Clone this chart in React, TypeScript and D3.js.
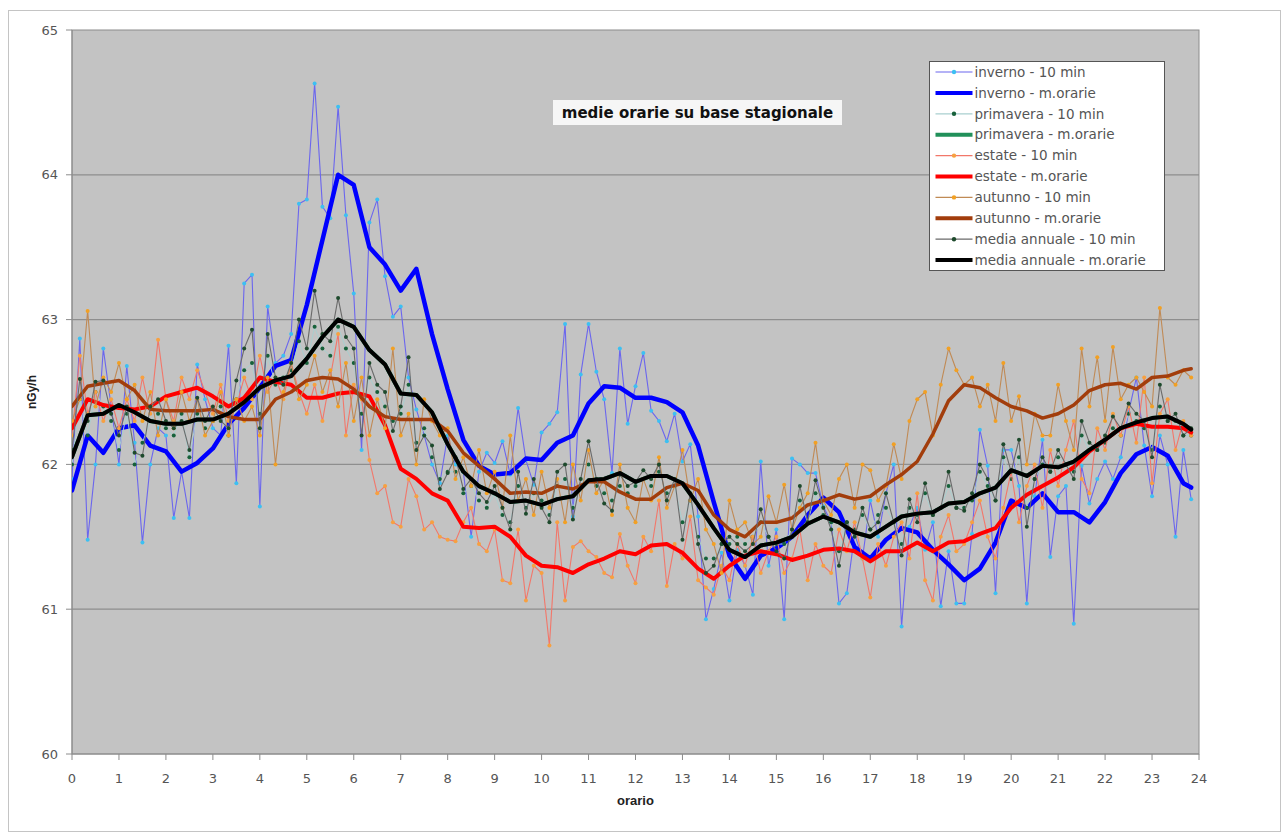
import React from 'react';
import * as d3 from 'd3';

// hours on the x axis, nGy/h on the y axis
const hourTicks = d3.range(0, 25);
const valueTicks = [60, 61, 62, 63, 64, 65];
const gridValues = [61, 62, 63, 64];

// 10-minute samples (0:00 .. 23:50) and the 20-minute sampling of the hourly running means
const tenMinTimes = d3.range(144).map((i) => i / 6);
const hourlyTimes = [...d3.range(72).map((i) => i / 3), 23 + 5 / 6];

const invernoTen = [
  61.9, 62.87, 61.48, 62.0, 62.8, 62.4,
  62.0, 62.68, 62.15, 61.46, 62.0, 62.25,
  62.2, 61.63, 61.95, 61.63, 62.69, 62.45,
  62.25, 62.2, 62.82, 61.87, 63.25, 63.31,
  61.71, 63.09, 62.7, 62.75, 62.9, 63.8,
  63.83, 64.63, 63.78, 63.7, 64.47, 63.72,
  63.18, 62.1, 63.67, 63.83, 63.3, 63.02,
  63.09, 62.6, 62.38, 62.2, 62.0, 61.87,
  62.2, 62.0, 61.95, 61.5, 61.95, 62.08,
  62.01, 62.16, 61.93, 62.39, 62.03, 61.86,
  62.22, 62.28, 62.36, 62.97, 61.64, 62.62,
  62.97, 62.64, 62.45, 61.94, 62.8, 62.28,
  62.54, 62.77, 62.37, 62.3, 62.16, 62.35,
  62.02, 62.14, 61.64, 60.93, 61.14, 61.39,
  61.06, 61.41, 61.3, 61.1, 62.02, 61.3,
  61.55, 60.93, 62.04, 62.0, 61.94, 61.94,
  61.71, 61.6, 61.04, 61.11, 61.52, 61.35,
  61.75, 61.5, 61.8, 62.0, 60.88, 61.57,
  61.7, 61.41, 61.6, 61.02, 61.4, 61.04,
  61.04, 61.52, 62.24, 61.99, 61.11, 62.1,
  62.1, 61.85, 61.04, 61.78, 62.17, 61.36,
  61.78, 61.85, 60.9, 61.99, 61.73, 61.9,
  62.02, 61.9, 62.05, 62.36, 62.6, 62.13,
  61.78, 62.2, 62.0, 61.5, 62.1, 61.76,
];

const invernoOrarie = [
  61.82, 62.2, 62.08, 62.25, 62.27, 62.13, 62.09, 61.95, 62.01, 62.11, 62.28, 62.39,
  62.53, 62.68, 62.72, 63.1, 63.55, 64.0, 63.93, 63.5, 63.38, 63.2, 63.35, 62.9,
  62.52, 62.17, 61.99, 61.93, 61.94, 62.04, 62.03, 62.15, 62.2, 62.42, 62.54, 62.53,
  62.46, 62.46, 62.43, 62.36, 62.13, 61.74, 61.37, 61.21, 61.37, 61.42, 61.5, 61.65,
  61.77, 61.67, 61.43, 61.35, 61.48, 61.56, 61.53, 61.41, 61.31, 61.2, 61.28, 61.46,
  61.75, 61.7, 61.8, 61.67, 61.67, 61.6, 61.74, 61.94, 62.07, 62.12, 62.06, 61.87,
  61.84,
];

const primaveraTen = [
  62.0, 62.45, 62.2, 62.5, 62.4, 62.3,
  62.1, 62.35, 62.0, 62.15, 62.3, 62.35,
  62.25, 62.2, 62.35, 62.05, 62.35, 62.25,
  62.3, 62.4, 62.2, 62.45, 62.65, 62.7,
  62.35, 62.75, 62.55, 62.6, 62.65, 62.85,
  62.7, 62.95, 62.8, 62.75, 62.95, 62.8,
  62.7, 62.35, 62.6, 62.5, 62.4, 62.3,
  62.35, 62.55, 62.15, 62.25, 62.05, 61.9,
  61.95, 61.95, 61.8, 61.85, 61.75, 61.7,
  61.8, 61.65, 61.6, 61.85, 61.7, 61.8,
  61.75, 61.65, 61.85, 61.9, 61.7, 61.85,
  62.0, 61.85, 61.8, 61.75, 61.85, 61.8,
  61.85, 61.9, 61.85, 61.95, 61.8, 61.85,
  61.6, 61.75, 61.5, 61.35, 61.35, 61.45,
  61.45, 61.5, 61.45, 61.5, 61.6, 61.5,
  61.45, 61.45, 61.55, 61.75, 61.6, 61.8,
  61.65, 61.6, 61.4, 61.6, 61.55, 61.65,
  61.55, 61.65, 61.7, 61.6, 61.45, 61.7,
  61.65, 61.8, 61.65, 61.7, 61.85, 61.7,
  61.7, 61.75, 61.95, 61.85, 61.75, 62.05,
  61.9, 62.05, 61.7, 61.9, 62.0, 61.95,
  62.05, 62.0, 61.95, 62.2, 62.1, 62.1,
  62.15, 62.25, 62.2, 62.35, 62.3, 62.25,
  62.1, 62.4, 62.3, 62.3, 62.2, 62.2,
];

// hidden under the annual mean in the picture
const primaveraOrarie = [
  62.05, 62.34, 62.35, 62.41, 62.36, 62.3, 62.28, 62.28, 62.31, 62.31, 62.35, 62.43,
  62.53, 62.58, 62.61, 62.73, 62.88, 63.0, 62.95, 62.79, 62.69, 62.49, 62.48, 62.36,
  62.14, 61.95, 61.85, 61.8, 61.74, 61.75, 61.72, 61.76, 61.78, 61.89, 61.9, 61.94,
  61.88, 61.92, 61.92, 61.87, 61.72, 61.56, 61.41, 61.36, 61.44, 61.46, 61.5, 61.59,
  61.64, 61.6, 61.53, 61.5, 61.57, 61.64, 61.66, 61.67, 61.73, 61.74, 61.8, 61.84,
  61.96, 61.92, 61.99, 61.98, 62.02, 62.1, 62.17, 62.25, 62.29, 62.32, 62.33, 62.28,
  62.24,
];

const estateTen = [
  62.2, 62.75, 62.35, 62.5, 62.3, 62.45,
  62.25, 62.45, 62.3, 62.6, 62.35, 62.86,
  62.45, 62.3, 62.6, 62.45, 62.65, 62.5,
  62.35, 62.55, 62.3, 62.4, 62.6, 62.45,
  62.75, 62.5, 62.6, 62.45, 62.7, 62.5,
  62.35, 62.55, 62.3, 62.6, 62.9, 62.2,
  62.55, 62.45, 62.03, 61.8, 61.85, 61.6,
  61.57, 61.9, 61.78, 61.55, 61.6, 61.5,
  61.48, 61.47, 61.6, 61.7, 61.45, 61.4,
  61.55, 61.2, 61.18, 61.55, 61.06, 61.3,
  61.25, 60.75, 61.6, 61.06, 61.43, 61.47,
  61.4, 61.36, 61.25, 61.22, 61.52, 61.3,
  61.18, 61.5, 61.4, 61.75, 61.16, 61.45,
  61.35, 61.64, 61.2, 61.15, 61.1, 61.3,
  61.2, 61.45, 61.3, 61.5, 61.25, 61.4,
  61.5, 61.25, 61.35, 61.55, 61.2, 61.45,
  61.3, 61.25, 61.55, 61.4, 61.6, 61.35,
  61.08, 61.45, 61.3, 61.5, 61.6, 61.35,
  61.8, 61.2, 61.06, 61.5, 61.65, 61.4,
  61.45, 61.6, 61.75, 61.5, 61.35, 61.7,
  61.95, 61.6, 61.85, 62.0, 61.7, 62.1,
  61.85, 62.1, 62.3, 61.9, 61.8, 62.25,
  62.1, 62.35, 62.2, 62.4, 62.15, 62.6,
  61.87, 62.35, 62.45, 62.1, 62.3, 62.2,
];

const estateOrarie = [
  62.25, 62.45, 62.41, 62.39, 62.38, 62.4, 62.47, 62.5, 62.53, 62.47, 62.4, 62.46,
  62.6, 62.57, 62.55, 62.46, 62.46, 62.49, 62.5, 62.47, 62.27, 61.97, 61.9, 61.8,
  61.75, 61.57, 61.56, 61.57, 61.5, 61.37, 61.3, 61.29, 61.25, 61.31, 61.35, 61.4,
  61.38, 61.44, 61.45, 61.39, 61.28, 61.21, 61.3, 61.37, 61.4, 61.38, 61.34, 61.37,
  61.41, 61.42, 61.4, 61.33, 61.4, 61.4, 61.46, 61.4, 61.46, 61.47, 61.52, 61.56,
  61.7, 61.79, 61.85, 61.91, 61.98, 62.09, 62.17, 62.25, 62.28, 62.26, 62.26, 62.25,
  62.22,
];

const autunnoTen = [
  62.3, 62.45, 63.06, 62.4, 62.6, 62.5,
  62.7, 62.45, 62.55, 62.3, 62.5, 62.2,
  62.45, 62.25, 62.5, 62.3, 62.45, 62.2,
  62.3, 62.5, 62.2, 62.45, 62.3, 62.4,
  62.2, 62.6, 62.0, 62.5, 62.7, 62.45,
  62.55, 62.75, 62.5, 62.65, 62.4, 62.7,
  62.3, 62.6, 62.2, 62.45, 62.25, 62.8,
  62.2, 62.35, 62.0, 62.45, 62.3, 62.2,
  62.25, 61.9, 62.05, 61.85, 62.1, 61.8,
  61.95, 61.7, 62.2, 61.75, 61.9, 61.65,
  61.95, 61.7, 61.9, 61.6, 62.0, 61.75,
  62.1, 61.8, 61.9, 61.65, 62.0, 61.7,
  61.6, 61.9, 61.75, 62.05, 61.7, 61.85,
  62.1, 61.75, 61.9, 61.55, 61.45, 61.25,
  61.75, 61.55, 61.6, 61.45, 61.5, 61.78,
  61.6, 61.86, 61.55, 61.7, 61.8, 62.15,
  61.75, 61.65, 61.9, 62.0, 61.7, 62.0,
  61.96, 61.75, 61.85, 62.14, 61.9, 62.3,
  62.45, 62.5, 62.2, 62.55, 62.8, 62.65,
  62.55, 62.6, 62.4, 62.55, 62.3, 62.7,
  62.3, 62.47, 62.0, 62.35, 62.2, 62.2,
  62.55, 62.3, 62.1, 62.8, 62.4, 62.74,
  62.3, 62.81, 62.45, 62.55, 62.6, 62.5,
  62.4, 63.08, 62.6, 62.55, 62.65, 62.6,
];

const autunnoOrarie = [
  62.4, 62.54, 62.56, 62.58, 62.51, 62.38, 62.37, 62.37, 62.37, 62.38, 62.33, 62.31,
  62.31, 62.45, 62.5, 62.58, 62.6, 62.59, 62.52, 62.4, 62.33, 62.31, 62.31, 62.31,
  62.23, 62.08, 61.99, 61.9, 61.8, 61.81, 61.8, 61.85, 61.83, 61.88, 61.88, 61.81,
  61.76, 61.76, 61.84, 61.87, 61.82, 61.65, 61.55, 61.5, 61.6, 61.6, 61.63, 61.72,
  61.75, 61.79, 61.76, 61.78, 61.86, 61.93, 62.02, 62.21, 62.44, 62.55, 62.53, 62.46,
  62.4, 62.37, 62.32, 62.35, 62.41, 62.51, 62.55, 62.56, 62.52, 62.6, 62.61, 62.65,
  62.66,
];

const mediaTen = [
  62.1, 62.59, 62.3, 62.57, 62.58, 62.35,
  62.2, 62.4, 62.08, 62.06, 62.4, 62.45,
  62.3, 62.25, 62.3, 62.1, 62.46, 62.3,
  62.4, 62.3, 62.25, 62.58, 62.8, 62.93,
  62.25, 62.9, 62.6, 62.55, 62.7, 63.0,
  62.8, 63.2, 62.9, 62.85, 63.15, 62.88,
  62.8, 62.2, 62.7, 62.55, 62.5, 62.23,
  62.4, 62.74, 62.1, 62.2, 62.13, 61.83,
  61.94, 62.05, 61.83, 61.9, 61.8, 61.74,
  61.85, 61.7, 61.55, 61.95, 61.66, 61.9,
  61.7, 61.6, 61.95, 62.0, 61.62, 61.9,
  62.16, 61.9, 61.73, 61.68, 61.93, 61.85,
  61.88, 61.96, 61.9, 62.0, 61.75, 61.9,
  61.48, 61.8, 61.45, 61.25, 61.3, 61.45,
  61.5, 61.45, 61.4, 61.45, 61.69, 61.5,
  61.4, 61.35, 61.55, 61.85, 61.6, 61.89,
  61.7, 61.55, 61.3, 61.6, 61.5, 61.7,
  61.55, 61.6, 61.8, 61.6, 61.37, 61.76,
  61.6, 61.87, 61.65, 61.7, 61.95, 61.7,
  61.68, 61.8, 62.0, 61.9, 61.75, 62.14,
  61.95, 62.17, 61.57, 61.9, 62.05, 61.95,
  62.1, 62.0, 61.9, 62.3, 62.15, 62.1,
  62.2, 62.33, 62.25, 62.42, 62.35, 62.3,
  62.05, 62.55, 62.3, 62.35, 62.2, 62.25,
];

const mediaOrarie = [
  62.05, 62.34, 62.35, 62.41, 62.36, 62.3, 62.28, 62.28, 62.31, 62.31, 62.35, 62.43,
  62.53, 62.58, 62.61, 62.73, 62.88, 63.0, 62.95, 62.79, 62.69, 62.49, 62.48, 62.36,
  62.14, 61.95, 61.85, 61.8, 61.74, 61.75, 61.72, 61.76, 61.78, 61.89, 61.9, 61.94,
  61.88, 61.92, 61.92, 61.87, 61.72, 61.56, 61.41, 61.36, 61.44, 61.46, 61.5, 61.59,
  61.64, 61.6, 61.53, 61.5, 61.57, 61.64, 61.66, 61.67, 61.73, 61.74, 61.8, 61.84,
  61.96, 61.92, 61.99, 61.98, 62.02, 62.1, 62.17, 62.25, 62.29, 62.32, 62.33, 62.28,
  62.24,
];

interface Series {
  name: string;
  times: number[];
  values: number[];
  stroke: string;
  width: number;
  marker?: string;
}

const SERIES: Series[] = [
  { name: 'inverno - 10 min', times: tenMinTimes, values: invernoTen, stroke: '#6b66ee', width: 1.1, marker: '#3cc0f2' },
  { name: 'inverno - m.orarie', times: hourlyTimes, values: invernoOrarie, stroke: '#0000ff', width: 4.5 },
  { name: 'primavera - 10 min', times: tenMinTimes, values: primaveraTen, stroke: '#a9cfcf', width: 1, marker: '#17613a' },
  { name: 'primavera - m.orarie', times: hourlyTimes, values: primaveraOrarie, stroke: '#21905a', width: 4 },
  { name: 'estate - 10 min', times: tenMinTimes, values: estateTen, stroke: '#f2776a', width: 1.1, marker: '#f7a040' },
  { name: 'estate - m.orarie', times: hourlyTimes, values: estateOrarie, stroke: '#ff0000', width: 4 },
  { name: 'autunno - 10 min', times: tenMinTimes, values: autunnoTen, stroke: '#c08a55', width: 1.1, marker: '#f2a023' },
  { name: 'autunno - m.orarie', times: hourlyTimes, values: autunnoOrarie, stroke: '#a23d0c', width: 3.5 },
  { name: 'media annuale - 10 min', times: tenMinTimes, values: mediaTen, stroke: '#6a6a6a', width: 1.1, marker: '#1d4a2c' },
  { name: 'media annuale - m.orarie', times: hourlyTimes, values: mediaOrarie, stroke: '#000000', width: 4 },
];

const W = 1285;
const H = 835;
const PLOT = { left: 72, right: 1199, top: 30, bottom: 754 };

const x = d3.scaleLinear().domain([0, 24]).range([PLOT.left, PLOT.right]);
const y = d3.scaleLinear().domain([60, 65]).range([PLOT.bottom, PLOT.top]);

const labelFont = '"DejaVu Sans", Verdana, sans-serif';
const boldFont = '"Liberation Sans", Arial, sans-serif';

export default function App() {
  const lineFor = (s: Series) =>
    d3
      .line<number>()
      .x((_, i) => x(s.times[i]))
      .y((v) => y(v))(s.values) ?? '';

  const legend = { x: 929.5, y: 61.5, w: 235, h: 209, row: 20.9 };

  return (
    <svg
      width={W}
      height={H}
      style={{ position: 'absolute', left: 0, top: 0, background: '#fff' }}
    >
      <rect x={8.5} y={10.5} width={1272} height={821} fill="#fff" stroke="#c4c4c4" />

      {/* plot area */}
      <rect
        x={PLOT.left}
        y={PLOT.top}
        width={PLOT.right - PLOT.left}
        height={PLOT.bottom - PLOT.top}
        fill="#c3c3c3"
        stroke="#8c8c8c"
      />
      {gridValues.map((v) => (
        <line
          key={v}
          x1={PLOT.left}
          x2={PLOT.right}
          y1={y(v)}
          y2={y(v)}
          stroke="#8e8e8e"
          strokeWidth={1.2}
        />
      ))}

      {/* y axis */}
      <line x1={PLOT.left} x2={PLOT.left} y1={PLOT.top} y2={PLOT.bottom} stroke="#8c8c8c" />
      {valueTicks.map((v) => (
        <g key={v}>
          <line x1={PLOT.left - 6} x2={PLOT.left} y1={y(v)} y2={y(v)} stroke="#8c8c8c" />
          <text
            x={PLOT.left - 14}
            y={y(v)}
            dy="0.35em"
            textAnchor="end"
            fontFamily={labelFont}
            fontSize={13}
            fill="#555"
          >
            {v}
          </text>
        </g>
      ))}

      {/* x axis */}
      <line x1={PLOT.left} x2={PLOT.right} y1={PLOT.bottom} y2={PLOT.bottom} stroke="#8c8c8c" />
      {hourTicks.map((h) => (
        <g key={h}>
          <line x1={x(h)} x2={x(h)} y1={PLOT.bottom} y2={PLOT.bottom + 6} stroke="#8c8c8c" />
          <text
            x={x(h)}
            y={PLOT.bottom + 29}
            textAnchor="middle"
            fontFamily={labelFont}
            fontSize={13}
            fill="#555"
          >
            {h}
          </text>
        </g>
      ))}

      <text
        x={(PLOT.left + PLOT.right) / 2}
        y={805}
        textAnchor="middle"
        fontFamily={boldFont}
        fontWeight="bold"
        fontSize={13}
        fill="#222"
      >
        orario
      </text>
      <text
        transform={`translate(36, ${(PLOT.top + PLOT.bottom) / 2}) rotate(-90)`}
        textAnchor="middle"
        fontFamily={boldFont}
        fontWeight="bold"
        fontSize={12}
        fill="#222"
      >
        nGy/h
      </text>

      {/* series, in legend order so the running means sit on top */}
      <g clipPath="url(#plotClip)">
        {SERIES.map((s) => (
          <g key={s.name}>
            <path
              d={lineFor(s)}
              fill="none"
              stroke={s.stroke}
              strokeWidth={s.width}
              strokeLinejoin="round"
              strokeLinecap="round"
            />
            {s.marker &&
              s.values.map((v, i) => (
                <circle key={i} cx={x(s.times[i])} cy={y(v)} r={2} fill={s.marker} />
              ))}
          </g>
        ))}
      </g>
      <defs>
        <clipPath id="plotClip">
          <rect x={PLOT.left} y={PLOT.top} width={PLOT.right - PLOT.left} height={PLOT.bottom - PLOT.top} />
        </clipPath>
      </defs>

      {/* title */}
      <rect x={553} y={100} width={289} height={25} fill="#fff" opacity={0.85} />
      <text
        x={697.5}
        y={118}
        textAnchor="middle"
        fontFamily={labelFont}
        fontWeight="bold"
        fontSize={15}
        fill="#111"
      >
        medie orarie su base stagionale
      </text>

      {/* legend */}
      <rect x={legend.x} y={legend.y} width={legend.w} height={legend.h} fill="#fff" stroke="#555" />
      {SERIES.map((s, i) => {
        const cy = legend.y + 10.5 + i * legend.row;
        return (
          <g key={s.name}>
            <line
              x1={legend.x + 6}
              x2={legend.x + 43}
              y1={cy}
              y2={cy}
              stroke={s.stroke}
              strokeWidth={s.marker ? 1.2 : 4}
            />
            {s.marker && <circle cx={legend.x + 24.5} cy={cy} r={2.2} fill={s.marker} />}
            <text
              x={legend.x + 45}
              y={cy}
              dy="0.35em"
              fontFamily={labelFont}
              fontSize={13.5}
              fill="#555"
            >
              {s.name}
            </text>
          </g>
        );
      })}
    </svg>
  );
}
